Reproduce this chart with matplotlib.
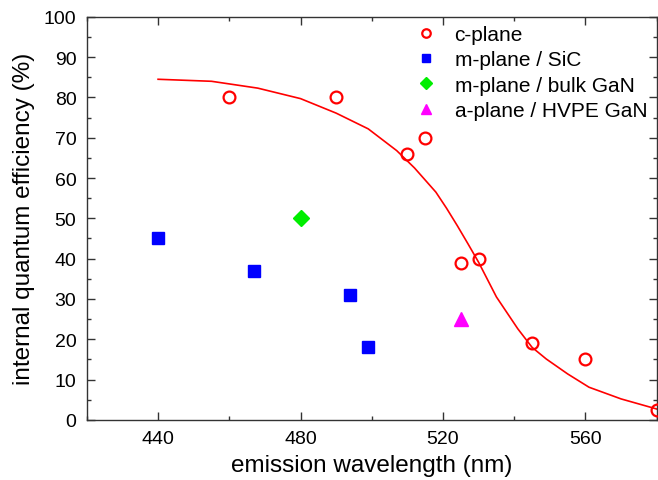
import matplotlib
matplotlib.use("Agg")
import matplotlib.pyplot as plt
from matplotlib.ticker import MultipleLocator

plt.rcParams['font.family'] = ['Liberation Sans', 'DejaVu Sans']

# c-plane data
c_x = [460, 490, 510, 515, 525, 530, 545, 560, 580]
c_y = [80, 80, 66, 70, 39, 40, 19, 15, 2.5]
# m-plane / SiC
msic_x = [440, 467, 494, 499]
msic_y = [45, 37, 31, 18]
# m-plane / bulk GaN
mbulk_x = [480]
mbulk_y = [50]
# a-plane / HVPE GaN
a_x = [525]
a_y = [25]
fit_x = [440, 455, 468, 480, 490, 499, 507, 512, 518, 521, 524, 527, 530, 535, 541, 545, 549, 555, 561, 570, 580]
fit_y = [84.5, 84.0, 82.3, 79.7, 76.1, 72.2, 66.8, 62.5, 56.5, 52.5, 48.2, 43.7, 39.1, 30.5, 22.6, 18.0, 15.1, 11.4, 8.1, 5.2, 2.7]

fig = plt.figure(figsize=(6.58, 4.81), dpi=100)
ax = fig.add_axes([0.132, 0.125, 0.866, 0.838])

ax.plot(fit_x, fit_y, color='#ff0000', lw=1.2, zorder=2)
ax.plot(c_x, c_y, 'o', mfc='none', mec='#ff0000', mew=1.6, ms=8.5, ls='none', label='c-plane', zorder=3)
ax.plot(msic_x, msic_y, 's', color='#0000ff', ms=8, ls='none', label='m-plane / SiC', zorder=3)
ax.plot(mbulk_x, mbulk_y, 'D', color='#00ee00', ms=8, ls='none', label='m-plane / bulk GaN', zorder=3)
ax.plot(a_x, a_y, '^', color='#ff00ff', ms=9.5, ls='none', label='a-plane / HVPE GaN', zorder=3)

ax.set_xlim(420, 580)
ax.set_ylim(0, 100)
ax.xaxis.set_major_locator(MultipleLocator(40))
ax.xaxis.set_minor_locator(MultipleLocator(20))
ax.yaxis.set_major_locator(MultipleLocator(10))
ax.yaxis.set_minor_locator(MultipleLocator(5))
ax.tick_params(which='both', direction='in', top=True, right=True, labelsize=14, width=1, colors='#333333', labelcolor='black')
ax.tick_params(which='major', length=5.5, pad=7.5)
ax.tick_params(which='minor', length=3)
for s in ax.spines.values():
    s.set_linewidth(1.0)
    s.set_color('#333333')

ax.set_xlabel('emission wavelength (nm)', fontsize=17.5, labelpad=5)
ax.set_ylabel('internal quantum efficiency (%)', fontsize=17.5, labelpad=6)

leg = ax.legend(loc='upper right', bbox_to_anchor=(0.998, 1.0), frameon=False, fontsize=15, markerscale=0.72,
                handletextpad=0.7, labelspacing=0.3, borderaxespad=0.0, handlelength=1.3)

fig.savefig('out.png', dpi=100)
